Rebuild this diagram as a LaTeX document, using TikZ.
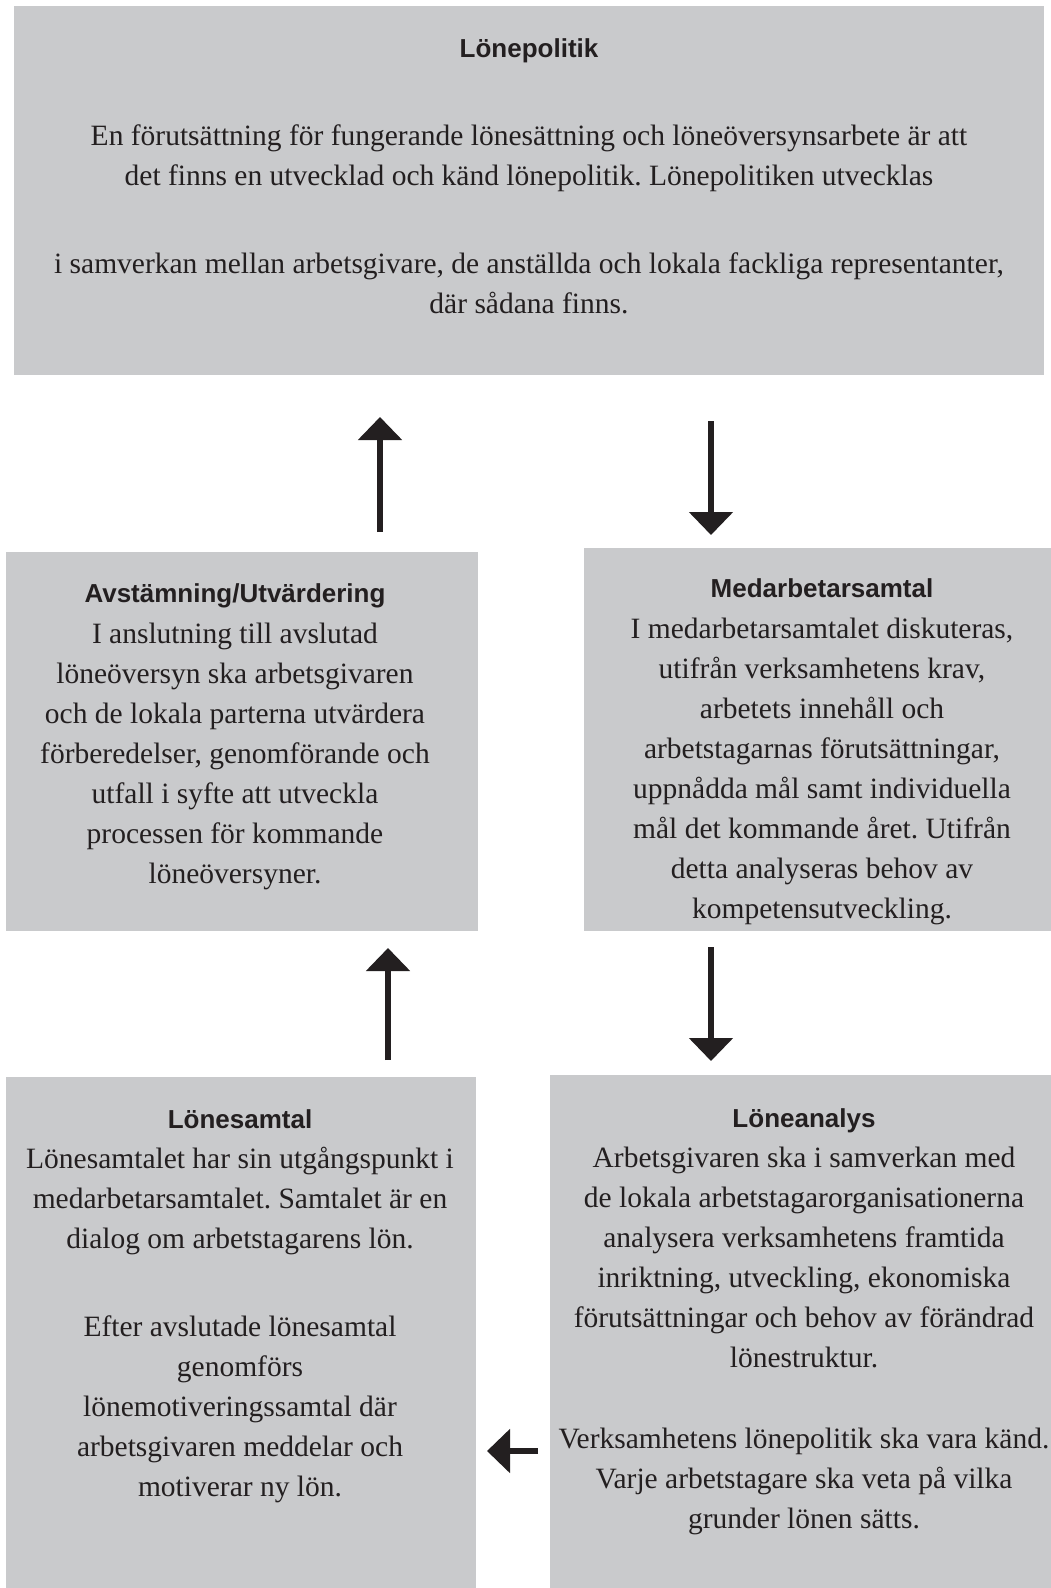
\documentclass[tikz,border=0pt]{standalone}
\usepackage{fontspec}
\setmainfont{Liberation Serif}
\setsansfont{Liberation Sans}
\usetikzlibrary{arrows.meta, positioning}
\definecolor{boxGray}{RGB}{201,202,204}
\definecolor{inkBlack}{RGB}{35,31,32}
\newcommand{\heading}[1]{{\sffamily\bfseries\fontsize{26}{40}\selectfont #1}}
\frenchspacing

\begin{document}
\begin{tikzpicture}[x=1pt, y=-1pt,
    panel/.style={fill=boxGray, draw=none, inner sep=0pt, anchor=north west},
    blurb/.style={align=center, text=inkBlack, font=\fontsize{29.5}{40}\selectfont, inner sep=0pt, anchor=north},
    flow/.style={-{Triangle[width=43pt,length=23pt]}, line width=5.5pt, inkBlack}]
    \useasboundingbox (0,0) rectangle (1051,1588);

    % boxes
    \node[panel, minimum width=1030pt, minimum height=369pt] (pol) at (14,6) {};
    \node[panel, minimum width=472pt, minimum height=379pt] (avst) at (6,552) {};
    \node[panel, minimum width=467pt, minimum height=383pt] (medarb) at (584,548) {};
    \node[panel, minimum width=470pt, minimum height=511pt] (samtal) at (6,1077) {};
    \node[panel, minimum width=501pt, minimum height=513pt] (analys) at (550,1075) {};

    % texts
    \node[blurb] (polText) at (529,38) {\heading{Lönepolitik}\\[48pt]
        En förutsättning för fungerande lönesättning och löneöversynsarbete är att\\
        det finns en utvecklad och känd lönepolitik. Lönepolitiken utvecklas\\[48pt]
        i samverkan mellan arbetsgivare, de anställda och lokala fackliga representanter,\\
        där sådana finns.};
    \node[blurb] (avstText) at (235,583) {\heading{Avstämning/Utvärdering}\\[1pt]
        I anslutning till avslutad\\
        löneöversyn ska arbetsgivaren\\
        och de lokala parterna utvärdera\\
        förberedelser, genomförande och\\
        utfall i syfte att utveckla\\
        processen för kommande\\
        löneöversyner.};
    \node[blurb] (medarbText) at (822,578) {\heading{Medarbetarsamtal}\\[1pt]
        I medarbetarsamtalet diskuteras,\\
        utifrån verksamhetens krav,\\
        arbetets innehåll och\\
        arbetstagarnas förutsättningar,\\
        uppnådda mål samt individuella\\
        mål det kommande året. Utifrån\\
        detta analyseras behov av\\
        kompetensutveckling.};
    \node[blurb] (samtalText) at (240,1109) {\heading{Lönesamtal}\\
        Lönesamtalet har sin utgångspunkt i\\
        medarbetarsamtalet. Samtalet är en\\
        dialog om arbetstagarens lön.\\[48pt]
        Efter avslutade lönesamtal\\
        genomförs\\
        lönemotiveringssamtal där\\
        arbetsgivaren meddelar och\\
        motiverar ny lön.};
    \node[blurb] (analysText) at (804,1108) {\heading{Löneanalys}\\
        Arbetsgivaren ska i samverkan med\\
        de lokala arbetstagarorganisationerna\\
        analysera verksamhetens framtida\\
        inriktning, utveckling, ekonomiska\\
        förutsättningar och behov av förändrad\\
        lönestruktur.\\[41pt]
        Verksamhetens lönepolitik ska vara känd.\\
        Varje arbetstagare ska veta på vilka\\
        grunder lönen sätts.};

    % arrows
    \coordinate (upA) at (380,532);
    \coordinate (upAtip) at (380,417);
    \coordinate (downA) at (711,421);
    \coordinate (downAtip) at (711,535);
    \coordinate (upB) at (388,1060);
    \coordinate (upBtip) at (388,948);
    \coordinate (downB) at (711,947);
    \coordinate (downBtip) at (711,1061);
    \coordinate (leftC) at (538,1451);
    \coordinate (leftCtip) at (487,1451);
    \draw[flow] (upA) -- (upAtip);
    \draw[flow] (downA) -- (downAtip);
    \draw[flow] (upB) -- (upBtip);
    \draw[flow] (downB) -- (downBtip);
    \draw[flow] (leftC) -- (leftCtip);
\end{tikzpicture}
\end{document}
